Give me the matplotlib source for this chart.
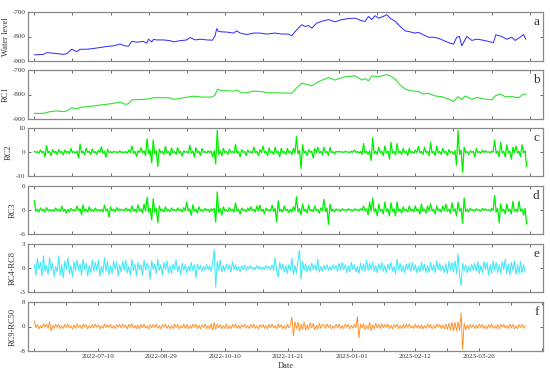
import numpy as np
import matplotlib
matplotlib.use("Agg")
import matplotlib.pyplot as plt

plt.rcParams['font.family'] = ['Liberation Serif', 'DejaVu Serif']

# -----------------------------
# Data (x in hours since 2022-06-07)
# -----------------------------
wl_hours = [0, 142, 195, 300, 457, 510, 589, 667, 720, 825, 930, 1035, 1140, 1245, 1350,
            1429, 1481, 1534, 1612, 1717, 1770, 1796, 1849, 1875, 1927, 2032, 2137, 2190,
            2295, 2400, 2452, 2531, 2610, 2715, 2804, 2846, 2872, 2898, 2951, 3030, 3135,
            3187, 3240, 3345, 3450, 3555, 3660, 3791, 3896, 4001, 4054, 4106, 4158, 4211,
            4264, 4316, 4369, 4447, 4526, 4631, 4736, 4841, 4946, 5051, 5156, 5208, 5261,
            5314, 5366, 5418, 5497, 5550, 5602, 5681, 5760, 5839, 5917, 5996, 6048, 6127,
            6206, 6285, 6363, 6442, 6521, 6600, 6652, 6694, 6731, 6810, 6889, 6967, 7046,
            7151, 7230, 7267, 7361, 7440, 7519, 7571, 7650, 7702, 7739]
water_level = [-875, -873, -866, -868, -873, -870, -852, -862, -852, -852, -849, -845, -841,
               -838, -831, -838, -840, -820, -823, -820, -827, -811, -822, -812, -814, -814,
               -817, -822, -817, -814, -804, -814, -811, -814, -815, -797, -768, -779, -781,
               -782, -786, -777, -786, -792, -786, -786, -790, -786, -790, -790, -797, -780,
               -766, -752, -759, -755, -766, -745, -738, -731, -740, -731, -727, -725, -736,
               -738, -718, -731, -715, -725, -718, -711, -725, -738, -759, -777, -781, -786,
               -783, -793, -803, -803, -807, -816, -825, -831, -803, -800, -838, -800, -816,
               -811, -814, -820, -825, -793, -800, -811, -803, -816, -803, -792, -811]

rc1_hours = [0, 142, 247, 352, 457, 510, 589, 667, 720, 825, 930, 1035, 1140, 1245, 1350,
             1429, 1481, 1534, 1717, 1822, 1875, 2032, 2137, 2190, 2295, 2400, 2505, 2610,
             2715, 2804, 2846, 2883, 2951, 3135, 3187, 3266, 3345, 3450, 3607, 3660, 3791,
             4054, 4132, 4211, 4316, 4369, 4473, 4631, 4736, 4894, 5051, 5156, 5208, 5261,
             5314, 5418, 5550, 5602, 5681, 5760, 5839, 5917, 6048, 6127, 6206, 6311, 6416,
             6521, 6600, 6668, 6731, 6784, 6889, 6967, 7072, 7204, 7256, 7335, 7414, 7519,
             7623, 7702, 7739]
rc1 = [-877, -877, -870, -867, -870, -867, -854, -859, -852, -850, -847, -843, -840, -836,
       -831, -840, -838, -822, -820, -817, -813, -813, -814, -820, -816, -811, -807, -810,
       -811, -810, -802, -779, -784, -786, -782, -793, -793, -786, -789, -793, -793, -795,
       -772, -754, -761, -765, -748, -731, -741, -727, -724, -741, -735, -744, -724, -727,
       -719, -724, -737, -761, -778, -784, -788, -798, -795, -806, -809, -818, -829, -809,
       -820, -806, -820, -812, -818, -822, -806, -798, -809, -809, -813, -799, -799]

# the oscillating components are sampled every 24 h
rc2 = [0.3, -0.2, 0.2, -0.5, 0.8, -0.3, 0.3, -2.0, 2.7, -0.4,
       0.3, -1.5, 1.0, -0.2, 0.3, -1.0, 1.0, -0.3, 0.2, -1.2,
       0.8, -0.2, 0.3, -0.6, 1.5, -0.3, 0.2, -0.5, 0.4, -2.5,
       3.3, -0.4, 0.3, -1.2, 1.5, -0.2, 0.3, -1.0, 1.2, -0.3,
       0.2, -1.0, 0.7, -0.2, 2.2, -0.5, 0.4, -2.2, 1.2, -0.3,
       0.2, -0.5, 0.3, -0.1, 0.1, -0.3, 0.5, -0.2, 0.1, -0.3,
       0.2, -0.5, 0.8, -0.2, 2.5, -0.5, 0.3, -1.8, 0.5, -0.2,
       1.8, -0.4, 0.5, -1.5, 5.5, -0.8, 0.6, -4.5, 5.0, -0.7,
       0.5, -6.0, 1.2, -0.3, 0.3, -1.0, 2.3, -0.4, 0.3, -1.5,
       1.7, -0.3, 0.2, -1.0, 1.8, -0.4, 0.3, -1.7, 0.5, -0.2,
       0.2, -0.5, 2.8, -0.5, 0.4, -2.0, 1.8, -0.3, 0.3, -1.5,
       1.5, -0.2, 0.2, -0.5, 0.5, -0.3, 0.4, -2.0, 0.6, -5.0,
       9.0, -1.0, 0.4, -1.5, 1.5, -0.3, 0.3, -1.0, 1.2, -0.2,
       0.2, -0.5, 3.2, -0.5, 0.3, -2.0, 1.0, -0.2, 0.3, -1.5,
       0.8, -0.2, 0.2, -0.5, 2.0, -0.3, 0.3, -1.5, 1.0, -0.3,
       2.5, -0.4, 0.3, -1.5, 1.7, -0.3, 0.2, -1.0, 2.0, -0.3,
       0.3, -2.0, 1.5, -0.3, 0.2, -1.0, 1.5, -0.3, 0.3, -1.0,
       1.5, -0.4, 6.5, -0.8, 0.7, -7.0, 3.0, -0.5, 0.3, -1.5,
       1.0, -0.2, 0.4, -2.5, 1.5, -0.3, 2.0, -0.4, 0.3, -1.2,
       2.0, -0.3, 0.3, -1.5, 2.0, -0.3, 0.2, -0.8, 0.3, -0.1,
       0.3, -0.1, 0.1, -0.2, 0.3, -0.1, 0.1, -0.3, 0.3, -0.1,
       0.8, -0.2, 0.2, -0.5, 0.3, -1.0, 3.5, -0.5, 0.3, -1.0,
       0.5, -3.5, 6.0, -0.7, 0.3, -1.0, 2.0, -0.3, 0.3, -1.5,
       2.5, -0.4, 0.4, -3.0, 4.0, -0.5, 0.3, -1.2, 3.5, -0.4,
       0.3, -1.0, 1.5, -0.2, 0.3, -1.5, 1.5, -0.3, 0.2, -0.5,
       0.8, -0.2, 2.3, -0.4, 0.3, -1.0, 2.0, -0.3, 0.3, -1.5,
       4.0, -0.5, 0.3, -1.5, 2.5, -0.4, 0.2, -1.0, 1.5, -0.3,
       0.3, -1.5, 1.0, -0.2, 0.2, -1.0, 0.6, -5.5, 9.0, -1.0,
       0.8, -8.5, 2.0, -0.3, 0.2, -1.0, 0.5, -0.2, 0.3, -2.0,
       1.5, -0.3, 0.2, -0.5, 0.8, -0.2, 0.5, -0.1, 0.1, -0.3,
       0.3, -0.1, 5.0, -0.6, 0.4, -2.0, 4.0, -0.5, 0.3, -2.0,
       3.0, -0.4, 0.4, -3.0, 2.0, -0.3, 2.5, -0.4, 0.3, -2.0,
       3.0, -0.4, 0.5, -6.0]

rc3 = [2.3, -0.3, 0.2, -0.5, 0.5, -0.2, 0.2, -0.5, 0.6, -0.2,
       0.1, -0.3, 0.1, -0.3, 0.5, -0.2, 0.2, -0.4, 1.0, -0.3,
       0.2, -0.8, 0.2, -0.5, 0.4, -0.1, 0.1, -0.3, 1.0, -0.2,
       0.3, -1.2, 1.3, -0.3, 0.2, -0.5, 0.8, -0.2, 0.1, -0.4,
       0.5, -0.1, 0.1, -0.3, 0.2, -0.5, 1.2, -0.3, 0.3, -1.8,
       0.8, -0.2, 0.2, -0.5, 0.6, -0.2, 0.3, -0.1, 0.1, -0.2,
       0.5, -0.2, 0.2, -0.5, 1.0, -0.3, 0.2, -0.5, 1.3, -0.3,
       0.3, -0.8, 1.5, -0.3, 3.2, -0.5, 0.4, -2.5, 2.8, -0.5,
       0.4, -3.2, 1.0, -0.2, 0.2, -0.5, 0.8, -0.2, 0.1, -0.4,
       0.5, -0.1, 0.1, -0.3, 0.5, -0.2, 0.2, -0.5, 0.6, -0.2,
       2.0, -0.3, 0.3, -1.3, 1.3, -0.3, 0.2, -0.8, 0.8, -0.2,
       0.1, -0.3, 0.4, -0.1, 0.2, -0.5, 0.3, -0.1, 0.4, -3.0,
       4.5, -0.6, 0.3, -1.3, 0.8, -0.2, 0.1, -0.4, 0.6, -0.2,
       0.2, -0.5, 1.8, -0.3, 0.2, -1.0, 0.5, -0.1, 0.1, -0.4,
       0.5, -0.2, 0.8, -0.2, 0.2, -0.5, 1.0, -0.2, 1.2, -0.3,
       0.2, -1.0, 0.5, -0.2, 0.1, -0.3, 1.2, -0.4, 0.4, -3.0,
       2.3, -0.4, 0.2, -0.5, 1.0, -0.2, 0.2, -0.6, 0.2, -0.5,
       0.8, -0.2, 3.3, -0.5, 0.3, -1.2, 1.5, -0.3, 0.2, -0.8,
       1.3, -0.3, 0.1, -0.4, 1.0, -0.2, 0.2, -0.8, 0.5, -0.1,
       2.7, -0.4, 0.5, -3.6, 1.5, -0.3, 0.2, -0.5, 0.3, -0.1,
       0.1, -0.3, 0.3, -0.1, 0.1, -0.2, 0.3, -0.1, 0.1, -0.3,
       0.3, -0.1, 0.1, -0.2, 0.3, -0.1, 1.0, -0.2, 0.3, -1.2,
       2.0, -0.3, 3.0, -0.5, 0.3, -1.5, 1.5, -0.3, 0.2, -1.0,
       2.0, -0.3, 0.3, -1.5, 1.8, -0.3, 0.3, -1.5, 2.0, -0.3,
       0.2, -0.8, 0.8, -0.2, 0.2, -0.5, 1.0, -0.2, 0.2, -0.5,
       1.0, -0.2, 0.2, -1.0, 1.5, -0.3, 0.2, -0.8, 1.0, -0.2,
       1.5, -0.3, 0.2, -1.0, 1.0, -0.2, 0.2, -0.5, 1.0, -0.2,
       1.5, -0.3, 0.2, -0.8, 1.8, -0.3, 0.3, -1.5, 2.0, -0.3,
       0.5, -3.3, 3.0, -0.4, 0.2, -0.5, 0.4, -0.1, 0.1, -0.3,
       0.3, -0.1, 0.1, -0.3, 0.4, -0.1, 0.3, -0.1, 0.1, -0.3,
       0.4, -0.1, 3.6, -0.5, 0.4, -3.2, 1.5, -0.3, 0.2, -1.0,
       1.5, -0.3, 0.2, -1.0, 2.2, -0.3, 0.2, -0.5, 2.2, -0.3,
       0.3, -1.3, 0.4, -3.5]

rc4_8 = [0.4, -0.9, 1.2, -0.2, 0.7, -1.0, 1.5, -0.4, 0.3, -0.8,
         1.3, -0.3, 0.6, -1.1, 0.2, -0.5, 1.5, -0.9, 0.4, -1.2,
         0.9, -0.2, 1.3, -0.7, 0.3, -1.1, 0.8, -0.4, 1.0, -0.3,
         0.5, -0.9, 1.1, -0.2, 0.6, -1.0, 0.3, -0.6, 1.0, -0.4,
         0.7, -0.3, 1.0, -1.0, 0.2, -0.6, 1.3, -0.4, 0.8, -0.9,
         0.3, -0.7, 0.9, -0.2, 0.8, -1.0, 0.4, -0.5, 0.9, -0.3,
         1.0, -0.6, 0.2, -0.9, 1.1, -0.3, 0.5, -1.0, 0.7, -0.2,
         0.4, -0.9, 1.0, -0.3, 0.6, 0.2, -1.4, 0.9, -0.2, 0.5,
         -0.7, 1.1, -0.3, 0.4, -0.9, 0.7, -0.2, 0.9, -0.6, 0.3,
         -0.7, 0.5, -0.2, 1.0, -0.5, 0.3, -0.8, 0.6, -0.3, 0.4,
         -0.6, 0.2, -0.4, 0.7, -0.3, 0.4, -1.2, 0.5, -0.2, 0.3,
         -0.4, 0.2, -0.3, 0.4, -0.2, 0.3, -0.4, 0.6, 2.3, -2.4,
         0.8, -0.3, 1.0, -0.5, 0.3, -0.4, 0.5, -0.2, 0.4, -0.5,
         0.8, -0.2, 0.4, -0.3, 0.2, -0.5, 0.3, -0.2, 0.4, -0.3,
         0.2, -0.1, 0.3, -0.2, 0.1, -0.2, 0.3, -0.1, 0.2, -0.2,
         0.1, -0.2, 0.3, -0.1, 0.2, -0.2, 0.4, -0.3, 1.3, -0.5,
         -1.1, 0.7, -0.2, 0.5, -0.5, 0.3, -0.7, 0.4, -0.3, 1.2,
         -0.8, 0.3, -0.6, 0.9, 2.2, -1.4, 0.8, -0.3, 0.5, -0.5,
         0.3, -0.4, 0.6, -0.2, 0.4, -0.3, 1.1, -0.5, 0.2, -0.4,
         0.3, -0.2, 0.4, -0.3, 0.2, -0.3, 0.4, -0.1, 0.3, -0.4,
         0.6, -0.3, 0.7, -0.2, 0.4, -0.6, 0.3, -0.5, 0.7, -0.2,
         0.4, -0.5, 0.2, -0.7, 0.6, -0.3, 0.5, -0.4, 1.0, -0.3,
         0.6, -0.2, 0.7, -0.4, 0.3, -0.6, 0.5, -0.2, 0.7, -0.4,
         0.3, -0.6, 0.5, -0.2, 0.7, -0.4, 0.2, -0.7, 1.1, -0.3,
         0.6, -0.5, 0.3, -0.6, 0.5, -0.2, 0.6, -0.4, 0.7, -0.3,
         0.4, -0.6, 0.2, -0.5, 0.7, -0.3, 0.5, -0.6, 0.3, -0.5,
         0.7, -0.3, 0.4, -0.6, 0.9, -0.2, 0.6, -0.4, 0.3, -0.6,
         0.5, -0.7, 0.8, -0.3, 0.7, -0.5, 0.9, -0.7, 1.8, -0.9,
         -2.2, 0.6, -0.3, 0.4, -0.6, 0.2, -0.4, 0.5, -0.3, 0.6,
         -0.4, 0.8, -0.7, 0.3, -0.6, 0.8, -0.2, 0.7, -0.9, 0.4,
         -0.7, 0.9, -0.3, 0.7, -0.6, 0.4, -0.7, 0.8, -0.2, 1.1,
         -0.7, 0.5, -0.9, 0.7, -0.3, 0.9, -0.8, 0.4, -0.7, 0.8,
         -0.6, 0.4, -0.5]

rc9_50 = [1.8, -0.4, 0.6, -0.8, 0.3, -0.5, 0.8, -0.2, 0.7, -0.6,
          1.5, -1.5, 0.4, -0.6, 0.7, -0.3, 0.6, -0.7, 0.2, -0.6,
          0.7, -0.3, 0.8, -0.5, 0.2, -0.8, 0.5, -0.6, 0.9, -0.3,
          0.4, -0.7, 0.8, -0.2, 0.6, -0.8, 0.3, -0.5, 0.7, -0.4,
          0.8, -0.3, 0.5, -0.8, 0.2, -0.6, 0.8, -0.4, 0.6, -0.3,
          0.7, -0.6, 0.3, -0.7, 0.6, -0.2, 0.7, -0.5, 0.8, -0.3,
          0.4, -0.8, 0.7, -0.2, 0.9, -0.6, 0.3, -0.7, 0.5, -0.8,
          0.7, -0.3, 0.8, -0.5, 0.2, -0.8, 0.6, -0.4, 0.7, -0.3,
          0.8, -0.6, 0.3, -0.8, 0.6, -0.2, 0.8, -0.6, 0.4, -0.7,
          0.3, -0.7, 0.8, -0.4, 0.7, -0.8, 0.2, -0.5, 0.8, -0.6,
          0.7, -0.8, 0.3, -0.6, 0.7, -0.3, 0.8, -0.7, 0.4, -0.8,
          0.6, -0.3, 0.8, -0.7, 0.3, -0.8, 0.9, -1.2, 1.2, -0.9,
          0.8, -0.4, 0.6, -0.8, 0.3, -0.6, 0.7, -0.8, 0.2, -0.7,
          0.7, -0.3, 0.8, -0.6, 0.4, -0.7, 0.6, -0.2, 0.8, -0.5,
          0.3, -0.7, 0.7, -0.4, 0.8, -0.6, 0.2, -0.8, 0.6, -0.3,
          0.7, -0.6, 0.3, -0.8, 0.7, -0.4, 0.8, -0.5, 0.3, -0.7,
          0.8, -0.3, 0.6, -0.7, 0.2, -0.8, 0.7, -0.4, 0.7, 3.0,
          -3.0, 1.5, -0.6, 1.4, -1.5, 0.8, -1.0, 1.5, -1.2, 0.6,
          -1.0, 1.2, -0.5, 1.0, -1.1, 0.4, -0.9, 1.0, -0.6, 0.7,
          0.5, -0.6, 0.8, -0.3, 0.6, -0.8, 0.2, -0.6, 0.7, -0.4,
          0.8, -0.7, 0.3, -0.7, 0.8, -0.2, 0.7, -0.8, 0.4, -0.6,
          0.7, -0.4, 3.3, -3.7, 0.8, -0.5, 0.9, -1.0, 0.4, -0.9,
          1.3, -1.3, 0.6, -0.8, 1.0, -0.5, 0.8, -0.7, 0.9, -0.4,
          0.7, -0.3, 0.8, -0.7, 0.4, -0.8, 0.6, -0.2, 0.8, -0.7,
          0.3, -0.7, 0.7, -0.6, 0.8, -0.3, 0.8, -0.5, 0.2, -0.7,
          0.8, -0.5, 0.4, -0.7, 0.6, -0.8, 0.3, -0.6, 0.8, -0.4,
          0.7, -0.8, 0.3, -0.6, 0.8, -0.2, 0.7, -0.7, 0.5, -0.8,
          0.8, -0.9, 1.0, -1.2, 1.4, -1.5, 1.3, -1.4, 1.5, -1.3,
          4.5, -7.5, 1.2, -1.0, 0.5, -0.8, 0.7, -0.4, 0.6, -0.7,
          0.4, -0.6, 0.8, -0.3, 0.6, -0.7, 0.2, -0.8, 0.6, -0.4,
          0.8, -0.6, 0.3, -0.7, 0.6, -0.8, 0.7, -0.2, 0.7, -0.5,
          0.3, -0.7, 0.8, -0.4, 0.7, -0.8, 0.2, -0.7, 0.6, -0.3,
          0.7, -0.6, 0.4]

date_labels = ['2022-07-19', '2022-08-29', '2022-10-10', '2022-11-21',
               '2023-01-01', '2023-02-12', '2023-03-26']
label_hours = [1000, 2000, 3000, 4000, 5000, 6000, 7000]


def daily(series):
    return np.arange(len(series)) * 24


# -----------------------------
# Figure layout
# -----------------------------
fig = plt.figure(figsize=(5.5, 3.74), dpi=100)
left, width = 28 / 550, 515 / 550
boxes = [(12, 61), (70, 119), (128, 176), (186, 234), (244, 292), (302, 351)]
axes = [fig.add_axes([left, 1 - b / 374, width, (b - t) / 374]) for t, b in boxes]

panels = [
    (wl_hours, water_level, '#2a2aff', 0.7, 'Water level', (-900, -700), [-900, -800, -700], 'a'),
    (rc1_hours, rc1, '#33e033', 0.8, 'RC1', (-900, -700), [-900, -800, -700], 'b'),
    (daily(rc2), rc2, '#00ee00', 0.9, 'RC2', (-10, 10), [-10, 0, 10], 'c'),
    (daily(rc3), rc3, '#00ee00', 0.9, 'RC3', (-6, 6), [-6, 0, 6], 'd'),
    (daily(rc4_8), rc4_8, '#3fe8f8', 0.75, 'RC4-RC8', (-3, 3), [-3, 0, 3], 'e'),
    (daily(rc9_50), rc9_50, '#ff8c22', 0.65, 'RC9-RC50', (-8, 8), [-8, 0, 8], 'f'),
]

for ax, (x, y, col, lw, lab, ylim, yt, letter) in zip(axes, panels):
    ax.plot(x, y, color=col, linewidth=lw)
    ax.set_xlim(-100, 8010)
    ax.set_ylim(*ylim)
    ax.set_yticks(yt)
    ax.set_yticklabels([str(v) for v in yt])
    ax.set_ylabel(lab, fontsize=6, labelpad=2, color='#333333')
    ax.tick_params(direction='in', length=2.5, width=0.6, labelsize=5,
                   top=True, right=True, colors='#555555', labelcolor='#333333', pad=2)
    for s in ax.spines.values():
        s.set_color('#888888')
        s.set_linewidth(0.9)
    ax.text(0.993, 0.80, letter, transform=ax.transAxes, fontsize=9.5,
            ha='right', va='center', color='#333333')
    if letter != 'f':
        ax.set_xticks(np.arange(0, 7801, 600))
        ax.set_xticklabels([])

axf = axes[-1]
axf.set_xticks(np.arange(0, 8001, 500))
axf.set_xticklabels([date_labels[label_hours.index(t)] if t in label_hours else ''
                     for t in np.arange(0, 8001, 500)])
axf.set_xlabel('Date', fontsize=6, labelpad=2, color='#333333')

plt.savefig('out.png', dpi=100)
